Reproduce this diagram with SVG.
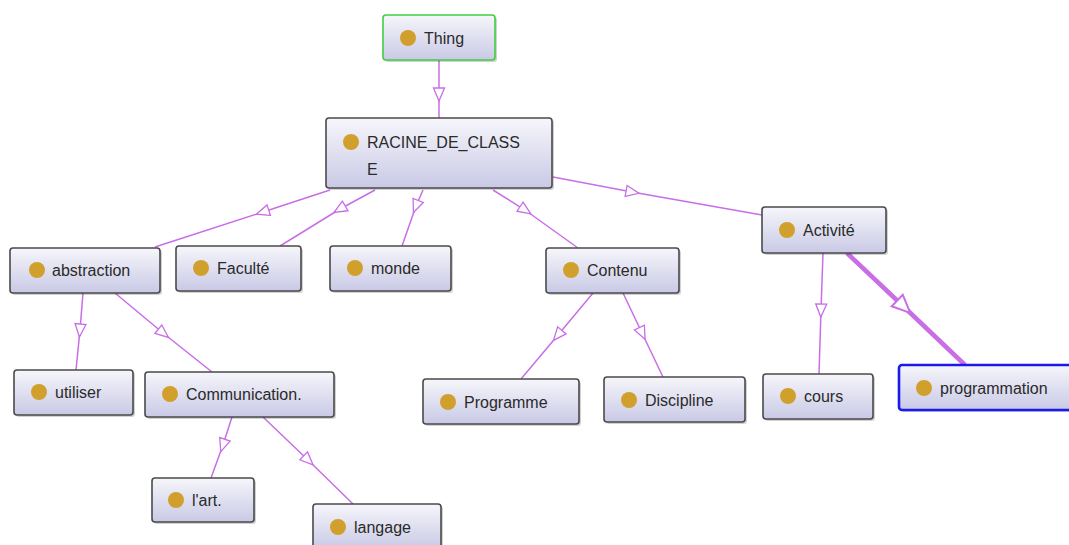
<svg xmlns="http://www.w3.org/2000/svg" width="1069" height="545" viewBox="0 0 1069 545">
<defs>
<linearGradient id="g" x1="0" y1="0" x2="0" y2="1">
<stop offset="0" stop-color="#f6f6fb"/>
<stop offset="1" stop-color="#c9c9e6"/>
</linearGradient>
<marker id="a" markerUnits="userSpaceOnUse" markerWidth="16" markerHeight="14" refX="6" refY="5.5" orient="auto" overflow="visible">
<path d="M0,0 L13,5.5 L0,11 Z" fill="#fff" stroke="#c86ee6" stroke-width="1.3"/>
</marker>
<marker id="b" markerUnits="userSpaceOnUse" markerWidth="24" markerHeight="20" refX="8" refY="8" orient="auto" overflow="visible">
<path d="M0,0 L18,8 L0,16 Z" fill="#fff" stroke="#c86ee6" stroke-width="2"/>
</marker>
<style>
.n rect.s{fill:#000;opacity:.18}
.n rect.b{fill:url(#g);stroke:#4a4a4a;stroke-width:1.6}
.n circle{fill:#d1a02c}
.n text{font-family:"Liberation Sans",Arial,sans-serif;font-size:16px;fill:#2a2a2a}
.c polyline{fill:none;stroke:#c86ee6;stroke-width:1.5;marker-mid:url(#a)}
.c polyline.t{stroke-width:4.5;marker-mid:url(#b)}
</style>
</defs>
<rect width="1069" height="545" fill="#fff"/>
<g id="connectors" class="c">
<polyline points="439,60 439,94 439,118"/>
<polyline points="330,190 263,212 155,247"/>
<polyline points="375,190 340,209 280,246"/>
<polyline points="423,190 416,206 402,246"/>
<polyline points="493,190 525,210 578,248"/>
<polyline points="553,177 632,192 762,215"/>
<polyline points="83,293 80,330 76,370"/>
<polyline points="115,293 163,333 212,372"/>
<polyline points="232,417 223,445 211,478"/>
<polyline points="263,417 308,460 353,504"/>
<polyline points="593,293 558,335 521,379"/>
<polyline points="623,293 642,333 663,377"/>
<polyline points="823,253 821,310 819,374"/>
<polyline class="t" points="847,253 903,306 965,365"/>
</g>
<g id="Thing" class="n"><rect class="s" x="385" y="17" width="112" height="45" rx="3"/><rect class="b" x="383" y="15" width="112" height="45" rx="3" style="stroke:#3fcf3f"/><circle cx="408" cy="38" r="8"/><text x="424" y="44">Thing</text></g>
<g id="RACINE_DE_CLASSE" class="n"><rect class="s" x="328" y="120" width="226" height="70" rx="3"/><rect class="b" x="326" y="118" width="226" height="70" rx="3"/><circle cx="351" cy="142" r="8"/><text x="367" y="148">RACINE_DE_CLASS</text><text x="367" y="175">E</text></g>
<g id="abstraction" class="n"><rect class="s" x="12" y="250" width="150" height="45" rx="3"/><rect class="b" x="10" y="248" width="150" height="45" rx="3"/><circle cx="37" cy="270" r="8"/><text x="52" y="276">abstraction</text></g>
<g id="Faculte" class="n"><rect class="s" x="178" y="248" width="125" height="45" rx="3"/><rect class="b" x="176" y="246" width="125" height="45" rx="3"/><circle cx="201" cy="268" r="8"/><text x="217" y="274">Faculté</text></g>
<g id="monde" class="n"><rect class="s" x="332" y="248" width="121" height="45" rx="3"/><rect class="b" x="330" y="246" width="121" height="45" rx="3"/><circle cx="355" cy="268" r="8"/><text x="371" y="274">monde</text></g>
<g id="Contenu" class="n"><rect class="s" x="548" y="250" width="133" height="45" rx="3"/><rect class="b" x="546" y="248" width="133" height="45" rx="3"/><circle cx="571" cy="270" r="8"/><text x="587" y="276">Contenu</text></g>
<g id="Activite" class="n"><rect class="s" x="764" y="209" width="124" height="46" rx="3"/><rect class="b" x="762" y="207" width="124" height="46" rx="3"/><circle cx="787" cy="230" r="8"/><text x="803" y="236">Activité</text></g>
<g id="utiliser" class="n"><rect class="s" x="16" y="372" width="119" height="45" rx="3"/><rect class="b" x="14" y="370" width="119" height="45" rx="3"/><circle cx="39" cy="392" r="8"/><text x="55" y="398">utiliser</text></g>
<g id="Communication" class="n"><rect class="s" x="147" y="374" width="189" height="45" rx="3"/><rect class="b" x="145" y="372" width="189" height="45" rx="3"/><circle cx="170" cy="394" r="8"/><text x="186" y="400">Communication.</text></g>
<g id="lart" class="n"><rect class="s" x="154" y="480" width="102" height="44" rx="3"/><rect class="b" x="152" y="478" width="102" height="44" rx="3"/><circle cx="176" cy="500" r="8"/><text x="192" y="506">l'art.</text></g>
<g id="langage" class="n"><rect class="s" x="315" y="506" width="128" height="45" rx="3"/><rect class="b" x="313" y="504" width="128" height="45" rx="3"/><circle cx="338" cy="527" r="8"/><text x="354" y="533">langage</text></g>
<g id="Programme" class="n"><rect class="s" x="425" y="381" width="156" height="45" rx="3"/><rect class="b" x="423" y="379" width="156" height="45" rx="3"/><circle cx="448" cy="402" r="8"/><text x="464" y="408">Programme</text></g>
<g id="Discipline" class="n"><rect class="s" x="606" y="379" width="141" height="45" rx="3"/><rect class="b" x="604" y="377" width="141" height="45" rx="3"/><circle cx="629" cy="400" r="8"/><text x="645" y="406">Discipline</text></g>
<g id="cours" class="n"><rect class="s" x="765" y="376" width="110" height="45" rx="3"/><rect class="b" x="763" y="374" width="110" height="45" rx="3"/><circle cx="788" cy="396" r="8"/><text x="804" y="402">cours</text></g>
<g id="programmation" class="n"><rect class="s" x="901" y="367" width="180" height="45" rx="3"/><rect class="b" x="899" y="365" width="180" height="45" rx="3" style="stroke:#1a1aee;stroke-width:2.6"/><circle cx="924" cy="388" r="8"/><text x="940" y="394">programmation</text></g>
</svg>
